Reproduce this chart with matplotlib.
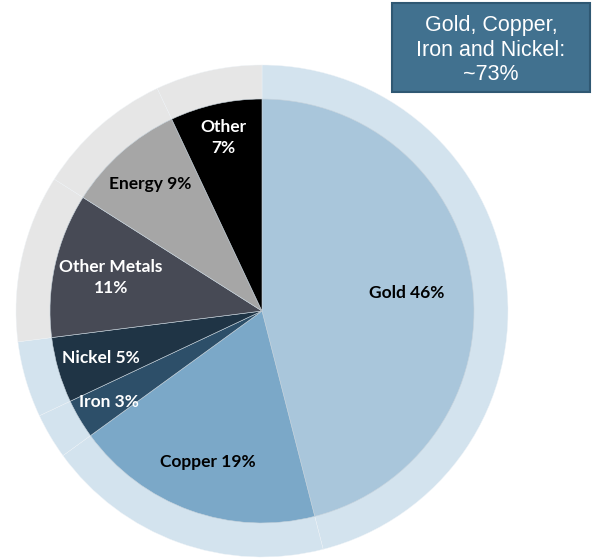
import matplotlib
matplotlib.use("Agg")
import matplotlib.pyplot as plt
import numpy as np
from matplotlib.patches import Rectangle

categories = ["Gold", "Copper", "Iron", "Nickel", "Other Metals", "Energy", "Other"]
values = [46, 19, 3, 5, 11, 9, 7]
labels = ["Gold 46%", "Copper 19%", "Iron 3%", "Nickel 5%", "Other Metals\n11%", "Energy 9%", "Other\n7%"]
box_text = "Gold, Copper,\nIron and Nickel:\n~73%"

colors = ["#A9C6DB", "#7BA8C8", "#2D4F69", "#1F3445", "#474A55", "#A6A6A6", "#000000"]
label_colors = ["black", "black", "white", "white", "white", "black", "white"]
ring_colors = ["#D3E3EE"] * 4 + ["#E6E6E6"] * 3
label_r = [0.69, 0.755, 0.84, 0.79, 0.73, 0.80, 0.84]

W, H = 594, 558
fig = plt.figure(figsize=(W / 100, H / 100), dpi=100)
ax = fig.add_axes([0, 0, 1, 1])
ax.set_xlim(0, W)
ax.set_ylim(0, H)
ax.axis("off")

cx, cy = 262, H - 311
R_out, R_in = 246, 212

ax.pie(values, colors=ring_colors, radius=R_out, center=(cx, cy), startangle=90,
       counterclock=False, wedgeprops=dict(edgecolor="#EEF3F7", linewidth=0.3))
wedges, _ = ax.pie(values, colors=colors, radius=R_in, center=(cx, cy), startangle=90,
                   counterclock=False, wedgeprops=dict(edgecolor="#C8D4DD", linewidth=0.4))
ax.set_xlim(0, W)
ax.set_ylim(0, H)
ax.set_aspect("equal")

for w, lab, col, rf in zip(wedges, labels, label_colors, label_r):
    ang = np.deg2rad((w.theta1 + w.theta2) / 2)
    x = cx + rf * R_in * np.cos(ang)
    y = cy + rf * R_in * np.sin(ang)
    ax.text(x, y, lab, ha="center", va="center", color=col, fontsize=12.5,
            fontweight="bold", family="Lato", linespacing=1.4)

ax.add_patch(Rectangle((392, H - 92), 198, 89, facecolor="#41718F", edgecolor="#2F5873", linewidth=1.5))
ax.text(491, H - 50, box_text, ha="center", va="center", color="white", fontsize=15.5,
        family="Liberation Sans", linespacing=1.2)

fig.savefig("out.png", dpi=100)
